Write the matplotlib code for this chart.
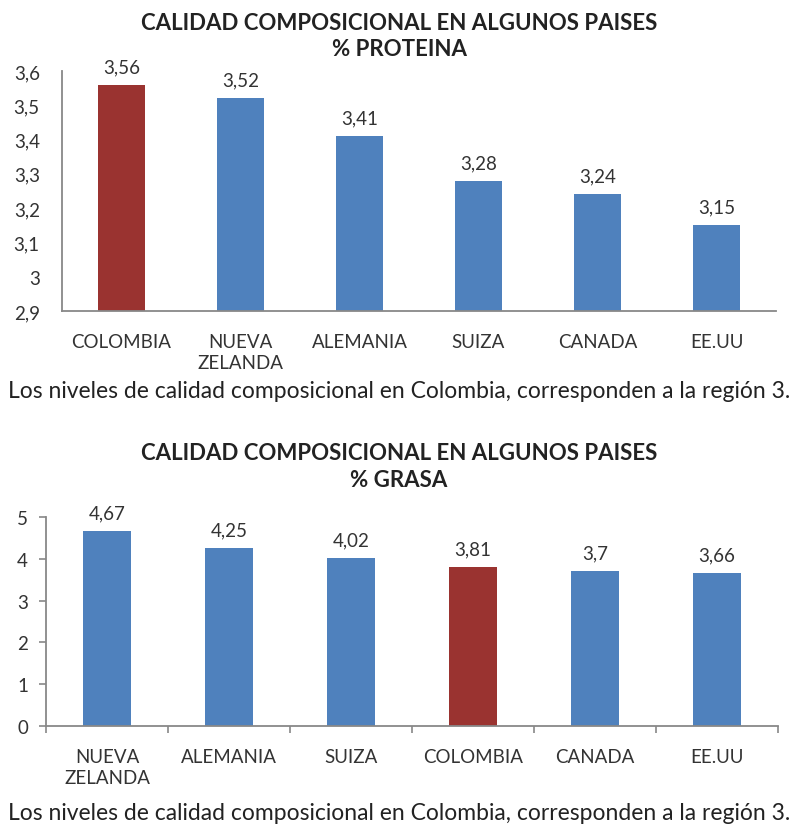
import matplotlib
matplotlib.use("Agg")
import matplotlib.pyplot as plt
from matplotlib.ticker import FixedLocator

plt.rcParams['font.family'] = ['Lato', 'DejaVu Sans']

# Data
prot_countries = ["COLOMBIA", "NUEVA\nZELANDA", "ALEMANIA", "SUIZA", "CANADA", "EE.UU"]
prot_values = [3.56, 3.52, 3.41, 3.28, 3.24, 3.15]
prot_labels = ["3,56", "3,52", "3,41", "3,28", "3,24", "3,15"]
prot_yticks = [2.9, 3.0, 3.1, 3.2, 3.3, 3.4, 3.5, 3.6]
prot_yticklabels = ["2,9", "3", "3,1", "3,2", "3,3", "3,4", "3,5", "3,6"]

gras_countries = ["NUEVA\nZELANDA", "ALEMANIA", "SUIZA", "COLOMBIA", "CANADA", "EE.UU"]
gras_values = [4.67, 4.25, 4.02, 3.81, 3.70, 3.66]
gras_labels = ["4,67", "4,25", "4,02", "3,81", "3,7", "3,66"]
gras_yticks = [0, 1, 2, 3, 4, 5]
gras_yticklabels = ["0", "1", "2", "3", "4", "5"]

BLUE = "#4F81BD"
RED = "#9A3330"
TXT = "#333333"
SPINE = "#888888"

title_main = "CALIDAD COMPOSICIONAL EN ALGUNOS PAISES"
caption = "Los niveles de calidad composicional en Colombia, corresponden a la región 3."

fig = plt.figure(figsize=(7.98, 8.29), dpi=100)
W, H = 798, 829

def ax_rect(x0, x1, ytop, ybot):
    return [x0 / W, 1 - ybot / H, (x1 - x0) / W, (ybot - ytop) / H]

def style(ax, ylim, yticks, yticklabels, cats, ticks_visible, xpad, ls):
    ax.set_xlim(-0.5, len(cats) - 0.5)
    ax.set_ylim(*ylim)
    ax.set_yticks(yticks)
    ax.set_yticklabels(yticklabels, fontsize=13.5, color=TXT)
    ax.set_xticks(range(len(cats)))
    ax.set_xticklabels(cats, fontsize=13.5, color=TXT, linespacing=ls)
    for s in ["top", "right"]:
        ax.spines[s].set_visible(False)
    for s in ["left", "bottom"]:
        ax.spines[s].set_color(SPINE)
        ax.spines[s].set_linewidth(1.3)
    ax.tick_params(axis="x", which="major", length=0, pad=xpad)
    if ticks_visible:
        ax.tick_params(axis="y", length=5, color=SPINE, width=1.2, pad=8, direction="out")
        ax.xaxis.set_minor_locator(FixedLocator([i + 0.5 for i in range(-1, len(cats))]))
        ax.tick_params(axis="x", which="minor", length=5, width=1.2, color=SPINE, direction="out")
    else:
        ax.tick_params(axis="y", length=0, pad=16)

# Top chart
ax1 = fig.add_axes(ax_rect(62, 776, 72, 312))
c1 = [RED if c == "COLOMBIA" else BLUE for c in prot_countries]
ax1.bar(range(len(prot_values)), prot_values, width=0.40, color=c1, bottom=0)
style(ax1, (2.9, 3.6), prot_yticks, prot_yticklabels, prot_countries, False, 16, 1.3)
for i, (v, l) in enumerate(zip(prot_values, prot_labels)):
    ax1.annotate(l, (i, v), xytext=(0, 7), textcoords="offset points",
                 ha="center", va="bottom", fontsize=13.5, color=TXT)

fig.text(0.5, 1 - 23 / H, title_main, ha="center", va="center", fontsize=16,
         fontweight="bold", color="#222222")
fig.text(0.5, 1 - 50 / H, "% PROTEINA", ha="center", va="center", fontsize=16,
         fontweight="bold", color="#222222")
fig.text(0.5, 1 - 392 / H, caption, ha="center", va="center", fontsize=16.5, color="#222222")

# Bottom chart
ax2 = fig.add_axes(ax_rect(46, 778, 518, 727))
c2 = [RED if c == "COLOMBIA" else BLUE for c in gras_countries]
ax2.bar(range(len(gras_values)), gras_values, width=0.40, color=c2)
style(ax2, (0, 5), gras_yticks, gras_yticklabels, gras_countries, True, 16, 1.3)
for i, (v, l) in enumerate(zip(gras_values, gras_labels)):
    ax2.annotate(l, (i, v), xytext=(0, 7), textcoords="offset points",
                 ha="center", va="bottom", fontsize=13.5, color=TXT)

fig.text(0.5, 1 - 454 / H, title_main, ha="center", va="center", fontsize=16,
         fontweight="bold", color="#222222")
fig.text(0.5, 1 - 481 / H, "% GRASA", ha="center", va="center", fontsize=16,
         fontweight="bold", color="#222222")
fig.text(0.5, 1 - 814 / H, caption, ha="center", va="center", fontsize=16.5, color="#222222")

fig.savefig("out.png", dpi=100, facecolor="white")
